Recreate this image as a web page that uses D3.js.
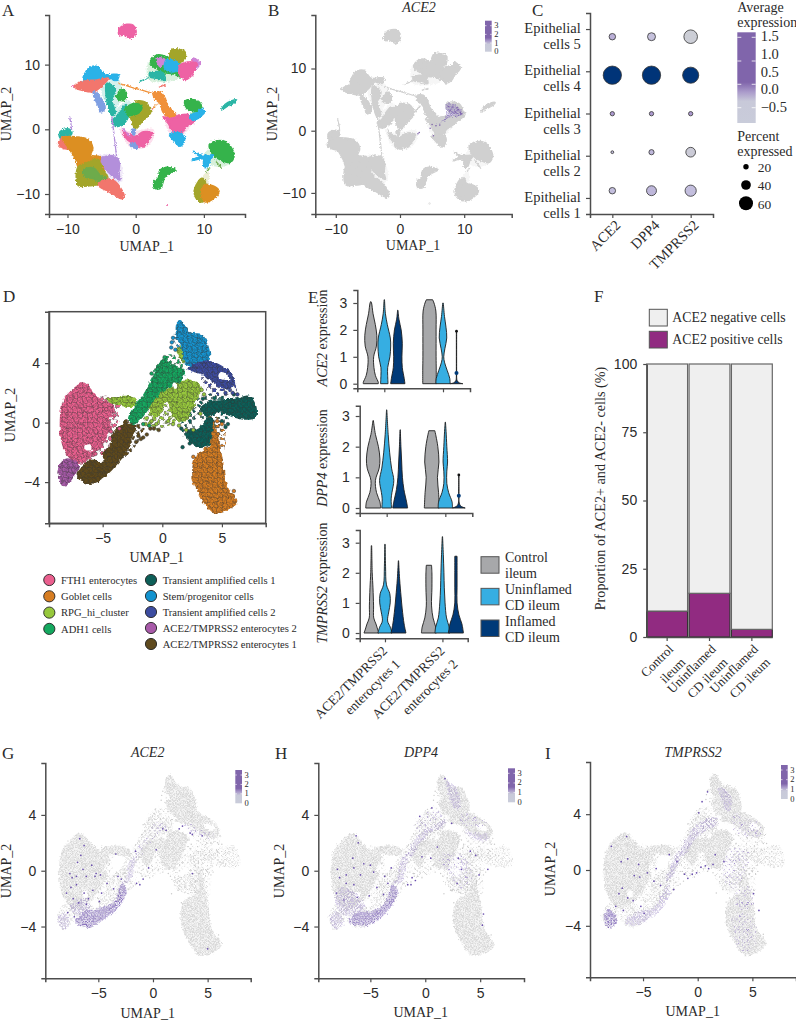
<!DOCTYPE html>
<html>
<head>
<meta charset="utf-8">
<script src="https://cdn.jsdelivr.net/npm/d3@7"></script>
<style>
  body { margin: 0; background: #fff; }
  svg { display: block; font-family: "Liberation Serif", serif; }
  text { fill: #2b2b2b; }
  .tick text { font-size: 14px; }
</style>
</head>
<body>
<script>
// ---- data ----
// panel A/B: outline of every cell cloud in UMAP units, [hue, points]
var atlasBlobs = [
  ["teal", [[-11.2,-.6],[-10.4,0],[-9.6,-.1],[-9.4,-.7],[-10.2,-1.2],[-11,-1.4]]],
  ["salmon", [[-11.3,-2.3],[-10.6,-1.2],[-9.4,-1.4],[-8.4,-2.7],[-8.4,-4.2],[-9.4,-3.2],[-10.6,-2.9]]],
  ["gold", [[-10.7,-1.3],[-8.6,-1.2],[-7,-1.6],[-6.3,-2.9],[-6.6,-4],[-5.2,-4.3],[-4.5,-6.3],[-6.3,-7.2],[-8.2,-6.3],[-8.8,-4.7],[-9.6,-3.2]]],
  ["olive", [[-8.7,-7.3],[-8.4,-5.8],[-7.2,-5.2],[-5.5,-4.7],[-4.8,-6.3],[-4.1,-7.5],[-5.2,-8.4],[-6.7,-8.7],[-8.4,-8.7]]],
  ["moss", [[-7.7,-6.3],[-6.2,-6],[-5.2,-7.1],[-4.1,-7.8],[-5,-8.3],[-6.2,-7.6],[-7.4,-7.3]]],
  ["purple", [[-5,-4.5],[-3,-4.2],[-2.4,-5.2],[-2.5,-6.8],[-2.3,-7.8],[-3.5,-7.1],[-4.5,-6]]],
  ["salmon", [[-5.5,-8.6],[-4,-7.7],[-2.8,-8.3],[-1.7,-10.4],[-2,-10.7],[-4,-9.6]]],
  ["cyan", [[-7.7,7.6],[-6.9,9.4],[-5.7,9.7],[-4.5,8.4],[-3.3,8.5],[-2.5,8.4],[-2.8,7.6],[-4,7.9],[-5.7,7.6],[-6.9,7.1]]],
  ["salmon", [[-9,6.6],[-7.7,7.4],[-5.7,7.6],[-4,7.9],[-5.2,6.5],[-6.2,5.8],[-7.7,6]]],
  ["periwinkle", [[-6.2,5.8],[-5.2,5],[-4.5,3.2],[-5.2,2.7],[-5.4,3.5],[-6,4.8]]],
  ["teal", [[-4.2,7.1],[-3,6.3],[-3.5,4.5],[-3,2.5],[-3.5,2.2],[-4.3,5]]],
  ["green", [[-2.8,5],[-2,6.2],[-1.4,5.6],[-1.6,4.5],[-2.5,4.6]]],
  ["teal", [[-3.5,1.2],[-2.8,2],[-1.4,3.8],[-1.1,3],[-1.1,2],[-2,.7],[-3,.5]]],
  ["olive", [[-.1,4.3],[1.4,4.2],[2.2,2.7],[.9,1.2],[0,.1],[-.7,1.7],[-.8,2.5],[.4,2.5],[.9,3.5]]],
  ["green", [[-1.5,3.2],[-.1,4],[.9,3.5],[.4,2.5],[-1.1,2.2]]],
  ["pink", [[-1.8,-.4],[-.1,-1.1],[1.1,-.4],[2.4,-.6],[1.9,-1.7],[1.1,-2.7],[-.1,-2.2],[-1.1,-1.7]]],
  ["periwinkle", [[-.8,-2.2],[-.1,-2.3],[.4,-2.9],[-.6,-2.7]]],
  ["periwinkle", [[-.6,-.1],[-.1,0],[-.25,-.9]]],
  ["green", [[2.2,10.6],[3.3,11.5],[5,11],[6.5,10.4],[6,9.4],[6.7,8.1],[5.5,8.6],[4,8.8],[3.1,9.4],[2.3,9.9]]],
  ["orchid", [[3.1,11],[4.3,10.7],[3.6,9.7]]],
  ["olive", [[5,11.2],[5.3,12.3],[6.2,12.4],[7.2,12],[7.1,10.7],[6.2,10.3],[5.3,10.4]]],
  ["cyan", [[4.5,10.7],[6.2,10.3],[6.5,9.4],[5.5,8.9],[4.3,9.4]]],
  ["orchid", [[8.4,11],[9.4,10.2],[8.8,9.4]]],
  ["pink", [[6.5,9.9],[8.2,10.4],[9,10.1],[8.7,9.4],[8,8.1],[7.2,7.7],[6.5,8.4]]],
  ["teal", [[2.1,8.7],[3.1,8.9],[4,8.7],[4.3,7.6],[3.1,7.9],[2.1,8.1]]],
  ["orange", [[2.6,5.6],[3.6,5.7],[4.3,4.8],[4.6,3.8],[5.8,2.2],[5.3,1.7],[4,2.7],[3.6,4],[2.8,4.8]]],
  ["pink", [[4,1.9],[5.3,1.7],[6.5,2.2],[8,2.2],[8.7,1.4],[7.2,.2],[6.7,-.6],[5.5,-.4],[4.8,.9]]],
  ["green", [[7.2,4.3],[8.2,4.6],[9.2,4.3],[9.7,3.2],[8.7,2.7],[7.7,3]]],
  ["cyan", [[9.7,3.2],[10.1,2.7],[9.4,1.9],[8.4,1.4],[8,2.2],[9,2.6]]],
  ["cyan", [[5,-.9],[6,-.5],[7,-.9],[7.1,-1.9],[6.5,-2.6],[5.5,-1.6]]],
  ["green", [[10.8,-2.4],[11.6,-1.9],[13.1,-1.9],[14.2,-3.2],[14.4,-4.2],[13.8,-5.1],[12.4,-4.7],[11.4,-4]]],
  ["cyan", [[8.2,-4.8],[9.2,-4.2],[8.5,-3.4],[9.4,-4],[10.6,-4],[11.4,-4],[10.9,-4.7],[10.5,-5.8],[10,-5.8],[9.9,-4.6]]],
  ["olive", [[8.9,-8.6],[9.7,-7.6],[10.2,-8.1],[9.9,-11.2],[8.9,-10.7],[8.6,-9.6]]],
  ["gold", [[9.7,-9.1],[10.2,-8.6],[11.6,-8.9],[12.2,-9.6],[11.4,-10.7],[10.2,-11.2],[9.7,-10.4]]],
  ["green", [[3.6,-6.3],[4.5,-5.9],[5.9,-6.3],[5,-6.8],[4.3,-7.3],[3.6,-9.1],[2.8,-9.1],[2.7,-8.1],[3.3,-7.6]]],
  ["teal", [[12.6,3],[13.1,3.8],[14.1,4.4],[14.8,4.5],[14.3,4],[13.3,3.5]]],
  ["pink", [[-2.5,14.8],[-2.2,15.8],[-1.3,16.2],[-.4,16.1],[.05,15.2],[-.1,14.6],[-.8,14.1],[-1.6,14.6],[-2.2,14.5]]]
];
// thinly populated zones drawn under the clouds
var atlasHaze = [
  ["teal", [[-5,6.5],[-2.7,7.8],[-2,6.3],[-3,3],[-4,3.5]]],
  ["teal", [[-3.5,2],[-1,4.5],[-.8,2],[-2.8,.7]]],
  ["pink", [[-2.3,.2],[-1,-.3],[2.6,0],[2.5,-1.7],[1,-3],[-1,-2.6]]],
  ["green", [[2,10.5],[6.5,10.5],[6.5,8],[2,7.6]]],
  ["pink", [[4.4,2],[8,2],[8,.4],[6.5,-1],[5,-.6]]],
  ["green", [[10,-4],[12,-2.4],[14,-5],[12.6,-5.8],[10.8,-5.4]]],
  ["purple", [[-8,-5],[-3,-4],[-2,-8],[-5,-9]]],
  ["olive", [[10,-7],[10.6,-6.4],[10.6,-8.4],[9.4,-8.2]]]
];
// thin trails of cells between the clouds
var atlasThreads = [
  ["orange", [[-2.5,7.1],[-.6,6.5],[1.4,5.9],[3.1,5.3]]],
  ["orange", [[2.4,3.2],[3.2,4]]],
  ["purple", [[-9.7,2],[-9.5,.9],[-9.4,-.1]]],
  ["purple", [[-3.5,2],[-3.2,-.6],[-2.8,-4.2]]],
  ["orchid", [[-2,.3],[-1.4,-.5],[-.8,-1.1]]],
  ["teal", [[-4.3,4.2],[-3.7,3.4],[-3.1,2.2]]],
  ["teal", [[.6,7.4],[2,8]]],
  ["salmon", [[3.4,6.5],[4.4,6.9]]],
  ["moss", [[11.6,-4.8],[12.3,-5.6],[12.6,-6.1]]],
  ["moss", [[10.4,-6.6],[10.9,-5.9]]]
];
var atlasSpecks = [["pink",-9.2,6.7],["pink",4.6,-11.7],["salmon",2.5,3.1],["salmon",4.3,6.7]];
// ACE2 signal in panel B
var aceAtlasHot = [[[7.1,4.2],[8.3,4.3],[9.7,3],[9.6,2.4],[8,2.2],[6.3,1.2],[5.8,1],[7,2],[7.2,3]]];
var aceAtlasDots = [[9.4,2.9],[9.1,3.4],[8.9,3.7],[9.6,2.7],[8.6,3],[8.2,3.8],[7.6,3.9],[7.8,3.2],[3,-.3],[2.8,-.5],[5.6,.8],[5,1],[6.2,.9],[4.7,.4],[5.2,-.8]];

// panel C dot plot
var epithelialRows = ["Epithelial cells 5","Epithelial cells 4","Epithelial cells 3","Epithelial cells 2","Epithelial cells 1"];
var dotGenes = ["ACE2","DPP4","TMPRSS2"];
var dotPercent = [[25,32,58],[80,80,70],[15,15,15],[8,19,40],[25,41,47]];
var dotExpression = [[-.1,-.25,-.5],[1.5,1.5,1.5],[.05,.05,.05],[-.2,-.15,-.45],[-.2,-.15,-.2]];
var avgTicks = [1.5,1,.5,0,-.5];
var percentTicks = [20,40,60];

// panel D clusters and outlines in UMAP units
var cellTypes = ["FTH1 enterocytes","Goblet cells","RPG_hi_cluster","ADH1 cells","Transient amplified cells 1","Stem/progenitor cells","Transient amplified cells 2","ACE2/TMPRSS2 enterocytes 2","ACE2/TMPRSS2 enterocytes 1"];
var cellColors = ["#ea5f8e","#d67d22","#97c83c","#14a85f","#0d5f58","#1393cf","#3c4ca0","#a85aa9","#5f4a1e"];
var cellHaze = [
  [2, [[-1.6,.6],[.5,2.2],[1.4,.4],[.4,-.3],[-1,-.4]]],
  [4, [[2.2,1.2],[4,2],[5.4,1.8],[5.5,.3],[5,-.6],[3.7,-1.6],[2,-1.2],[1.6,0]]],
  [0, [[-5.2,1.8],[-3.6,1.2],[-3.9,-.4],[-5,-2.2],[-6.6,-2.8]]],
  [8, [[-4.3,-1.4],[-3,.2],[-1.6,-.2],[-2,-1.3],[-3.4,-2.4]]],
  [3, [[-.8,3.4],[.6,4.6],[1.9,4],[1.2,2.6],[0,2]]],
  [5, [[1,6],[2,6.4],[3.6,5],[3,3.8],[1.8,4.2]]],
  [6, [[3.3,3.2],[5.8,3.2],[6.2,2],[4,2]]],
  [1, [[3.8,.4],[4.9,.2],[5.2,-1.8],[3.8,-1.8]]]
];
var cellOutlines = [
  [4, [[3.2,1],[4.3,1.5],[6,1.6],[7.3,1.8],[7.9,1],[7.8,.3],[6.8,.2],[5.8,.4],[4.8,.7],[3.7,.4]]],
  [4, [[2.9,-.4],[4,.4],[4.5,-.2],[4.3,-1.3],[3.2,-1.7],[2,-1.05],[2.2,-.5]]],
  [1, [[4.3,.1],[4.7,-1],[5.1,-2.6],[5.4,-4.2],[6.3,-5.3],[5.7,-5.8],[4.3,-6.1],[3.4,-5.3],[2.7,-4.2],[2.5,-3.3],[2.9,-2.1],[4,-1.5]]],
  [2, [[-4.7,1.6],[-3,1.8],[-2.1,1.5],[-2.3,1.1],[-3.3,1.1],[-4.2,1.3]]],
  [2, [[.5,2.3],[2,2.9],[3.2,2.5],[2.9,1.5],[2.3,.6],[2,.1],[.9,.3],[.4,1.4],[-.5,.3],[-1.2,1.2],[-.4,2.1]]],
  [2, [[1.2,4.9],[1.6,5.2],[1.9,4.8],[1.8,4]]],
  [3, [[-1.6,1.9],[-.8,3.1],[.1,4.3],[.9,3.9],[1.8,3.6],[1.7,2.9],[.4,2.3],[-.6,1.6],[-1.7,.3],[-2.6,-.2],[-2.8,.3],[-2.1,1.4]]],
  [5, [[1.2,6.7],[1.6,6.9],[2.3,6.1],[3.4,5.9],[4,4.3],[3.2,3.8],[2,3.9],[1.5,5.3],[1.2,5.7]]],
  [6, [[2,3.6],[3.7,4.2],[4.6,4],[5.7,3.4],[6.1,2.9],[5.7,2.3],[4.6,2.5],[3.4,3.2]]],
  [0, [[-8.6,.2],[-8.3,1.5],[-7.6,2.2],[-6.6,2.7],[-5.9,2.2],[-5.2,1.6],[-4.2,1.3],[-4,.8],[-4.5,.1],[-4.2,-.2],[-4.5,-.8],[-5.2,-1.7],[-6.1,-2.4],[-7,-2.8],[-7.9,-2.3],[-8.4,-1.5]]],
  [7, [[-8.8,-3.3],[-8.4,-2.6],[-7.9,-2.4],[-7,-2.8],[-7.3,-3.5],[-8.2,-4.3],[-8.6,-3.9]]],
  [8, [[-7.2,-3.5],[-6.3,-2.6],[-5.5,-2.4],[-4.4,-1.5],[-4.1,-.6],[-3.1,0],[-2.3,-.2],[-2.6,-1.2],[-3,-2],[-4.1,-3.1],[-5.4,-4],[-6.3,-4.1]]]
];
var cellGaps = [[[4.9,3.4],[5.5,3.2],[5.6,2.9],[5,2.9],[4.7,3.1]], [[-5.6,-2.3],[-5,-2.2],[-5,-2.6],[-5.6,-2.6]], [[-3.6,.9],[-3,.9],[-3.1,.4],[-3.7,.5]], [[.9,2.6],[1.2,2.6],[1.2,2.3],[.9,2.3]], [[-6.4,-1.5],[-6,-1.5],[-6,-1.9],[-6.4,-1.9]], [[2.6,.1],[3.2,.2],[3.1,-.2],[2.6,-.3]]];
var cellStrays = [
  [5,.8,5.4],[5,.9,5.7],[5,.75,5.05],[5,1.1,4.9],[3,.2,4.4],[3,.1,4.1],[3,-.9,3.3],[3,-.4,3.6],
  [4,1.7,-1.65],[4,3.4,1.6],[4,5.3,-.3],[4,5.5,-.1],[4,5,.1],[4,1.6,-.4],[4,2.3,-1.4],[4,6,1.9],[4,5.9,1.4],
  [8,-2,-.9],[8,-1.6,-1],[8,-1.3,-.8],[8,-1,-.4],[8,-.7,-.4],[8,-.3,-.5],[8,-2.2,-1.3],[8,-1.8,-1.1],
  [2,-1.4,-.1],[2,-.9,.1],[2,-.5,-.1],[2,.5,.1],[2,.9,-.1],[2,1.4,-.2],[2,2,-.5],[2,2.6,-.5],[2,3.3,2.2],[2,3.5,1.9],[2,3.2,.6],
  [3,-1.1,-.2],[3,-1.6,-.1],[6,3.5,3.9],[6,5.9,2],[6,5.3,2],[6,6.3,1.9],
  [0,-4.3,-.6],[0,-4,.5],[0,-3.6,-.4],[0,-5.6,-2.1],[0,-4.7,.9],[1,5,-.1],[1,4.6,.1],[1,6,-4.6],[1,2.6,-2.3]
];

// genes on the small cluster, hot zones and single dots, strength 0 strong, 1 middle, 2 weak
var geneHotAce2 = [
  [0, [[-7.1,-3.7],[-6.2,-2.9],[-4.9,-2.7],[-3.5,-2.1],[-2.9,-.9],[-2.4,-1.4],[-3.3,-2.8],[-4.9,-3.7],[-5.9,-4.1]]],
  [1, [[-8.7,-3.3],[-8,-3],[-7.7,-4],[-8.3,-4.2]]],
  [1, [[-2.9,-.9],[-2.1,-.7],[-1.8,0],[-1.6,1],[-2.2,.5],[-2.5,-.6]]],
  [1, [[-7.6,-2.4],[-6,-2],[-5.8,-2.9],[-7,-3.2]]],
  [2, [[-1.8,1],[-.9,2.3],[.7,3.5],[1.2,3.2],[-.4,1.9],[-1.4,.9]]],
  [2, [[3,3.4],[4.5,2.9],[5.6,2.7],[5.3,2.3],[4,2.6],[3.1,2.9]]]
];
var geneDotsAce2 = [[-6.7,2.3],[-6.3,1.8],[-6.6,1.1],[-7.6,-.2],[-7.4,-.5],[-5.6,.4],[-5.2,-.2],[-4.8,-.3],[-6.1,-.4],[-6.4,.1],[-7,-1],[-7.9,-1.6],[-7.3,-2],[-6.8,-2.3],[-6.3,-1.6],[-5.5,-1.4],[-4.7,-1.6],[-3.4,1.2],[-3.2,-.4],[-2.9,-.6],[-1.6,1.4],[-1.2,-1],[-1.5,-.9],[-.9,-.6],[-.4,.2],[.3,1.5],[.9,3],[1.2,2.9],[2.4,3],[2.7,3.2],[3.4,2.7],[3.6,2.6],[4.5,2.5],[3.6,-.2],[5,-5.6],[-5.9,-2],[-4.2,-.9],[-3.6,-1.3],[-7.8,-3],[-7.2,-3.3],[-6.9,.6],[-5.3,-.4],[-7,-.4],[-7.5,-1.2],[-6.1,-2.4],[-4.9,-2.2]];
var geneHotDpp4 = [
  [0, [[-7,-3.7],[-6.2,-3],[-4.9,-2.9],[-3.7,-2.3],[-3,-1],[-2.5,-1.4],[-3.4,-2.9],[-4.9,-3.8],[-5.9,-4]]],
  [1, [[-8.7,-3.3],[-8,-2.9],[-7.4,-3.8],[-8.2,-4.2]]],
  [1, [[-7.8,-1.2],[-6.4,-1.6],[-5.5,-2.7],[-7.4,-3.2],[-8.2,-2.2]]],
  [1, [[-3,-.9],[-2.2,-.8],[-1.8,.2],[-1.5,1.3],[-2.2,.8],[-2.6,-.5]]],
  [1, [[-1.6,1.1],[-.7,2.5],[.9,3.3],[1.9,3.7],[1.7,3.2],[.4,2.7],[-.4,2],[-1.2,1]]],
  [1, [[1.9,6.4],[2.8,6],[3.2,5.2],[3,4.3],[2.4,4.8],[2,5.8]]],
  [1, [[3.5,3],[4.5,2.7],[5.8,2.6],[5.6,2.2],[4.3,2.3]]],
  [2, [[3.1,4.1],[4.4,3.9],[5.6,3.4],[5,3.1],[3.6,3.3]]],
  [2, [[1.2,1],[2.9,1.3],[3.9,.6],[4.2,-.8],[3,-1.3],[2.2,-.2]]],
  [2, [[-1,3.4],[.6,4.3],[1.6,4],[.9,3.4],[-.3,2.8]]]
];
var geneDotsDpp4 = [[-6.3,2.5],[-6.1,2],[-6.6,.9],[-8,.1],[-7.8,-.5],[-7.2,-.3],[-5.6,.5],[-5,.4],[-5.9,-.3],[-4.7,-.1],[-6.5,.2],[-7.2,-.9],[-6.5,-1],[-5.1,-1.8],[-4.4,-1.2],[-3.4,-.9],[-3.7,-.4],[-3.1,.2],[-1.6,-1],[-1.3,-1],[-.9,-.7],[-1.2,-.5],[-.3,1],[.5,.9],[1.1,1.7],[3,.9],[4.1,1.4],[4.6,1.1],[5.7,.1],[4.9,-.3],[2.9,-.9],[3.3,.1],[1.8,6.6],[.6,4.5],[-.5,3.9],[2.4,3.4],[5.2,-3.9],[5.3,-3.1],[-8.1,-1.6],[-7.4,-2.1],[-6.2,-1.9],[-3.8,-1.7]];
var geneHotTmprss2 = [
  [0, [[-8.6,-3.3],[-8.2,-2.8],[-7.6,-3.1],[-7.4,-3.8],[-8.1,-4.2]]],
  [1, [[-6.7,-3.8],[-5.6,-3],[-4.2,-2.7],[-3.3,-1.8],[-2.8,-.9],[-2.5,-1.5],[-3.3,-2.8],[-4.6,-3.6],[-5.6,-4]]],
  [1, [[-3,-.8],[-2.3,-.5],[-1.8,.4],[-1.5,1.4],[-2.1,1],[-2.7,-.2]]],
  [1, [[-1.6,1.2],[-.8,2.5],[.2,3.4],[1.8,3.8],[1.7,3.2],[.4,2.7],[-.4,2],[-1.2,1.1]]],
  [1, [[1.9,5.9],[2.9,5.5],[3.1,4.5],[2.6,4.2],[2.2,5]]],
  [2, [[3.2,4.1],[4.4,3.7],[5.7,3.2],[5.7,2.4],[4.3,2.4],[3.3,3]]],
  [2, [[3,1.6],[4.6,1.3],[4.3,-.3],[3.4,-1.4],[2.4,-.6],[2.3,.5]]],
  [2, [[3.2,-3.3],[4.8,-3.2],[5.4,-4.6],[5.2,-5.6],[4,-5.8],[3.3,-4.6]]],
  [2, [[3.4,-1.8],[4.6,-1.2],[5,-2.6],[3.9,-2.8]]]
];
var geneDotsTmprss2 = [[-6.5,2.4],[-7.9,1.7],[-7,.6],[-6.4,.8],[-5.4,.4],[-5.8,-.4],[-5.3,-.5],[-4.6,-.2],[-6.9,-1.3],[-7.2,-1.7],[-6.4,-2],[-5.9,-2.2],[-7.5,-2.6],[-6.8,-2.9],[-3.8,.1],[-2.6,1.1],[-1.2,-.3],[-.9,-.6],[-.5,-.3],[-.1,-.2],[.3,.2],[.9,5.6],[.4,4.9],[.1,4.1],[.7,.3],[1,.1],[1.4,.4],[1.6,1.1],[2.4,.6],[5.6,-2.9],[5.1,-1.7],[-4,-.8],[-3.4,-1.1],[-2.2,-1.4],[-1.9,.6],[-4.9,-3.1],[-5.2,-2.6]];

// panel E violins, each [expression, share of the widest violin] from 0 upward
var enterocyteGroups = ["ACE2/TMPRSS2 enterocytes 1","ACE2/TMPRSS2 enterocytes 2"];
var conditions = ["Control ileum","Uninflamed CD ileum","Inflamed CD ileum"];
var violinAce2 = [
  [[0,1],[.05,1],[.3,.62],[.6,.42],[1,.38],[1.4,.75],[1.8,.8],[2.2,.6],[2.6,.3],[3,.1],[3.05,.02]],
  [[0,.5],[.3,.45],[.6,.45],[1,.75],[1.4,.85],[1.7,.8],[2.2,.4],[2.6,.15],[3.12,.03]],
  [[0,.95],[.2,.85],[.6,.6],[1,.55],[1.5,.6],[2,.45],[2.4,.15],[2.73,.03]],
  [[0,.9],[.5,.9],[1,.88],[2,.88],[2.7,.85],[3,.6],[3.12,.42]],
  [[0,.95],[.2,.9],[.5,.55],[.8,.2],[1,.1],[1.3,.25],[1.7,.5],[2.1,.4],[2.5,.2],[3,.04]],
  [[0,.85],[.03,.4],[.1,.1],[.2,.03],[.4,.02],[1.95,.02]]
];
var violinDpp4 = [
  [[0,1],[.2,.9],[.5,.45],[.9,.3],[1.3,.8],[1.6,.9],[2,.7],[2.4,.3],[2.85,.03]],
  [[0,.65],[.3,.6],[.5,.7],[.9,.95],[1.3,.65],[1.8,.4],[2.4,.2],[3.2,.02]],
  [[0,1],[.2,.85],[.6,.5],[1,.3],[1.5,.2],[2,.1],[2.55,.02]],
  [[0,1],[.5,.9],[1,.75],[1.5,.95],[2,.8],[2.35,.55],[2.52,.4]],
  [[0,.95],[.2,.9],[.5,.45],[.8,.2],[1.2,.2],[1.5,.3],[2,.2],[2.5,.1],[2.8,.02]],
  [[0,.85],[.03,.5],[.08,.2],[.2,.03],[1.08,.02]]
];
var violinTmprss2 = [
  [[0,1],[.1,.85],[.3,.6],[.5,.3],[.9,.28],[1.5,.2],[2,.1],[2.9,.03]],
  [[0,.95],[.2,.7],[.4,.35],[.7,.5],[1,.7],[1.3,.65],[1.6,.2],[2.2,.08],[2.95,.02]],
  [[0,1],[.3,.75],[.8,.5],[1.2,.35],[1.8,.15],[2.4,.02]],
  [[0,1],[.2,.9],[.5,.55],[.9,.35],[1.5,.4],[2,.4],[2.25,.35]],
  [[0,1],[.2,.9],[.5,.55],[1,.35],[1.5,.25],[2,.2],[2.6,.12],[3.2,.02]],
  [[0,1],[.3,.8],[.6,.4],[1,.15],[1.5,.15],[2,.15],[2.55,.15]]
];
var outliersAce2 = [.4,1.95];
var outliersDpp4 = [.4,1.08];

// panel F
var proportionGroups = [["Control","ileum"],["Uninflamed","CD ileum"],["Uninflamed","CD ileum "]];
var ace2Positive = [9.5,16,2.8];
var ace2Negative = [90.5,84,97.2];
var proportionTicks = [0,25,50,75,100];

// ---- drawing ----
var hues = {teal:"#2ab5a5",salmon:"#f2766d",gold:"#dc8f22",olive:"#a3a52b",moss:"#6dab4c",purple:"#b38fdb",cyan:"#2cb2e8",periwinkle:"#7f9fe2",green:"#36b34c",pink:"#ee62a4",orchid:"#cf84d6",orange:"#f0913a"};
var violinColors = d3.scaleOrdinal().domain(conditions).range(["#a7a8aa","#36aee2","#003a78"]);
var textColor = "#2b2b2b", axisColor = "#4d4d4d";

var svg = d3.select("body").append("svg").attr("width",796).attr("height",1022);
var defs = svg.append("defs");

function roughFilter(id, freq, scale, blur) {
  var f = defs.append("filter").attr("id",id).attr("x","-5%").attr("y","-5%").attr("width","110%").attr("height","110%");
  f.append("feTurbulence").attr("type","fractalNoise").attr("baseFrequency",freq).attr("numOctaves",2).attr("seed",4).attr("result","n");
  f.append("feDisplacementMap").attr("in","SourceGraphic").attr("in2","n").attr("scale",scale).attr("xChannelSelector","R").attr("yChannelSelector","G").attr("result","d");
  if (blur) f.append("feGaussianBlur").attr("in","d").attr("stdDeviation",blur);
}
roughFilter("roughA",.55,3.5,.55);
roughFilter("roughD",.22,5,.25);
roughFilter("roughG",.45,5,.2);

function dotPattern(id, size, r, fill, stroke, bg) {
  var p = defs.append("pattern").attr("id",id).attr("width",size).attr("height",size).attr("patternUnits","userSpaceOnUse");
  if (bg) p.append("rect").attr("width",size).attr("height",size).attr("fill",bg);
  [[size/4,size/4],[size*3/4,size*3/4]].forEach(function(c) {
    p.append("circle").attr("cx",c[0]).attr("cy",c[1]).attr("r",r).attr("fill",fill)
      .attr("stroke",stroke || "none").attr("stroke-width",stroke ? .45 : 0);
  });
}
cellColors.forEach(function(c,i) {
  dotPattern("cell"+i,5,1.75,c,"#333",d3.color(c).darker(.2));
  dotPattern("haze"+i,8,1.75,c,"#333");
});
dotPattern("grayCells",3.3,.8,"#cfcfcf",null,"#f5f5f5");
dotPattern("grayMid",4.2,.75,"#cdcdcd");
dotPattern("graySparse",5.4,.75,"#c9c9c9");
dotPattern("hot0",2.9,.78,"#7358b2");
dotPattern("hot1",3.9,.72,"#8d76bf");
dotPattern("hot2",5.2,.65,"#a897cf");
var grad = defs.append("linearGradient").attr("id","expr").attr("x1",0).attr("y1",0).attr("x2",0).attr("y2",1);
[[0,"#8065ab"],[.55,"#8065ab"],[.66,"#ab9ccb"],[.76,"#c8c9d9"],[1,"#c9ccda"]].forEach(function(s) {
  grad.append("stop").attr("offset",s[0]).attr("stop-color",s[1]);
});

function label(t, x, y) {
  svg.append("text").attr("x",x).attr("y",y).attr("font-size",17).text(t);
}
function rotated(g, t, x, y, size) {
  return g.append("text").attr("transform","translate("+x+","+y+") rotate(-90)")
    .attr("text-anchor","middle").attr("font-size",size || 14).text(t);
}
function styleAxis(sel) {
  sel.select(".domain").attr("stroke",axisColor).attr("stroke-width",1.5);
  sel.selectAll(".tick line").attr("stroke",axisColor).attr("stroke-width",1.2);
  sel.selectAll(".tick text").attr("fill",textColor);
}
function umapScales(p) {
  return {x:d3.scaleLinear().domain(p.xd).range(p.xr), y:d3.scaleLinear().domain(p.yd).range(p.yr)};
}
function umapAxes(p, s) {
  var fmt = d3.format("d");
  svg.append("g").attr("transform","translate(0,"+p.yr[0]+")")
    .call(d3.axisBottom(s.x).tickValues(p.xt).tickFormat(fmt).tickSize(4).tickPadding(p.xpad)).call(styleAxis);
  svg.append("g").attr("transform","translate("+p.xr[0]+",0)")
    .call(d3.axisLeft(s.y).tickValues(p.yt).tickFormat(fmt).tickSize(4).tickPadding(p.ypad)).call(styleAxis);
  svg.append("text").attr("x",p.t1[0]).attr("y",p.t1[1]).attr("text-anchor","middle").attr("font-size",14).text("UMAP_1");
  rotated(svg,"UMAP_2",p.t2[0],p.t2[1]);
  if (p.title) svg.append("text").attr("x",p.title[1]).attr("y",p.title[2]).attr("text-anchor","middle")
    .attr("font-size",14).attr("font-style","italic").text(p.title[0]);
}
function blobPath(s) {
  return d3.line().x(function(d){return s.x(d[0]);}).y(function(d){return s.y(d[1]);}).curve(d3.curveCatmullRomClosed.alpha(.5));
}
function threadPath(s) {
  return d3.line().x(function(d){return s.x(d[0]);}).y(function(d){return s.y(d[1]);}).curve(d3.curveCatmullRom);
}
function miniBar(x, y0, y1, w) {
  var sc = d3.scaleLinear().domain([0,3]).range([y1,y0+5]);
  svg.append("rect").attr("x",x).attr("y",y0).attr("width",w).attr("height",y1-y0).attr("fill","url(#expr)");
  [1,2,3].forEach(function(v) {
    svg.append("line").attr("x1",x).attr("x2",x+1.5).attr("y1",sc(v)).attr("y2",sc(v)).attr("stroke","#fff").attr("stroke-width",.7);
    svg.append("line").attr("x1",x+w-1.5).attr("x2",x+w).attr("y1",sc(v)).attr("y2",sc(v)).attr("stroke","#fff").attr("stroke-width",.7);
  });
  [0,1,2,3].forEach(function(v) {
    svg.append("text").attr("x",x+w+2.5).attr("y",sc(v)+2.5).attr("font-size",8.5).text(v);
  });
}

// A and B
var panelA = {xd:[-12.71,16.03],xr:[49,245],yd:[-13.09,17.67],yr:[214,15],xt:[-10,0,10],yt:[-10,0,10],xpad:6,ypad:5,t1:[146.7,250.5],t2:[11,114]};
var panelB = {xd:[-13.19,17.4],xr:[315.3,511.7],yd:[-13.39,18.6],yr:[214,15],xt:[-10,0,10],yt:[-10,0,10],xpad:6,ypad:5,t1:[413,250],t2:[277,114],title:["ACE2",419,12]};
function atlas(p, colorOf) {
  var s = umapScales(p);
  var g = svg.append("g").attr("filter","url(#roughA)");
  g.selectAll("path.haze").data(atlasHaze).join("path").attr("class","haze")
    .attr("d",function(d){return blobPath(s)(d[1]);}).attr("fill",function(d){return colorOf(d[0]);}).attr("opacity",.2);
  g.selectAll("path.blob").data(atlasBlobs).join("path").attr("class","blob")
    .attr("d",function(d){return blobPath(s)(d[1]);}).attr("fill",function(d){return colorOf(d[0]);})
    .attr("stroke",function(d){return colorOf(d[0]);}).attr("stroke-width",1.8).attr("stroke-linejoin","round");
  g.selectAll("path.thread").data(atlasThreads).join("path").attr("class","thread")
    .attr("d",function(d){return threadPath(s)(d[1]);}).attr("fill","none").attr("stroke-width",1.3)
    .attr("stroke",function(d){return colorOf(d[0]);});
  g.selectAll("circle").data(atlasSpecks).join("circle").attr("r",1)
    .attr("cx",function(d){return s.x(d[1]);}).attr("cy",function(d){return s.y(d[2]);})
    .attr("fill",function(d){return colorOf(d[0]);});
  return s;
}
atlas(panelA,function(h){return hues[h];});
umapAxes(panelA,umapScales(panelA));
var sB = atlas(panelB,function(){return "#d0d0d0";});
svg.append("g").attr("filter","url(#roughG)").selectAll("path").data(aceAtlasHot).join("path")
  .attr("d",blobPath(sB)).attr("fill","url(#hot0)");
svg.append("g").selectAll("circle").data(aceAtlasDots).join("circle").attr("r",.8)
  .attr("cx",function(d){return sB.x(d[0]);}).attr("cy",function(d){return sB.y(d[1]);}).attr("fill","#8065ab");
umapAxes(panelB,sB);
miniBar(485,20.7,51.7,6.7);

// C
var tickRow = d3.scalePoint().domain(epithelialRows).range([13,214]).padding(.38);
var dotRow = d3.scalePoint().domain(epithelialRows).range([36.7,190.7]);
var dotX = d3.scalePoint().domain(dotGenes).range([590,713]).padding(.57);
var dotR = d3.scaleLinear().domain([20,60]).range([2.7,7]);
var dotFill = d3.scaleLinear().domain([-.5,-.2,.05,.6,1.5]).range(["#ccced6","#c3bedd","#ac99cf","#5a5a9c","#003478"]);
svg.append("g").attr("transform","translate(590,0)")
  .call(d3.axisLeft(tickRow).tickSize(4).tickFormat("")).call(styleAxis);
svg.append("g").attr("transform","translate(0,214)")
  .call(d3.axisBottom(dotX).tickSize(4).tickFormat("")).call(styleAxis);
epithelialRows.forEach(function(row,i) {
  var parts = row.split(" ");
  var t = svg.append("text").attr("text-anchor","end").attr("font-size",14.5);
  t.append("tspan").attr("x",580.7).attr("y",tickRow(row)+4).text(parts[0]);
  t.append("tspan").attr("x",580.7).attr("dy",16).text(parts[1]+" "+parts[2]);
  dotGenes.forEach(function(gene,j) {
    svg.append("circle").attr("cx",dotX(gene)).attr("cy",dotRow(row)).attr("r",dotR(dotPercent[i][j]))
      .attr("fill",dotFill(dotExpression[i][j])).attr("stroke","#333").attr("stroke-width",.8);
  });
});
dotGenes.forEach(function(gene) {
  svg.append("text").attr("text-anchor","end").attr("font-size",14.5)
    .attr("transform","translate("+(dotX(gene)+9)+",226) rotate(-45)").text(gene);
});
var avgY = d3.scaleLinear().domain([1.5,-.5]).range([36.7,107.3]);
[["Average",11.7],["expression",26.7],["Percent",141],["expressed",156]].forEach(function(d) {
  svg.append("text").attr("x",737.3).attr("y",d[1]).attr("font-size",14).text(d[0]);
});
svg.append("rect").attr("x",737.3).attr("y",32.3).attr("width",18.4).attr("height",90.7).attr("fill","url(#expr)");
avgTicks.forEach(function(v) {
  svg.append("text").attr("x",760.7).attr("y",avgY(v)+4.5).attr("font-size",14.5).text(d3.format(".1f")(v));
});
[37.3,61,84.3,107.7].forEach(function(yy) {
  [737.3,751.7].forEach(function(xx) {
    svg.append("line").attr("x1",xx).attr("x2",xx+4).attr("y1",yy).attr("y2",yy).attr("stroke","#fff").attr("stroke-width",.8);
  });
});
var percentY = d3.scalePoint().domain(percentTicks).range([166.7,203.3]);
percentTicks.forEach(function(v) {
  svg.append("circle").attr("cx",746).attr("cy",percentY(v)).attr("r",dotR(v)).attr("fill","#000");
  svg.append("text").attr("x",757.7).attr("y",percentY(v)+5.3).attr("font-size",13.5).text(v);
});

// D
var panelD = {xd:[-9.5,8.67],xr:[49,265.7],yd:[-6.77,7.46],yr:[523.3,311.7],xt:[-5,0,5],yt:[-4,0,4],xpad:6,ypad:5,t1:[156.7,561.5],t2:[15,415]};
var sD = umapScales(panelD);
var dClouds = svg.append("g").attr("filter","url(#roughD)");
dClouds.selectAll("path.hz").data(cellHaze).join("path").attr("class","hz")
  .attr("d",function(d){return blobPath(sD)(d[1]);}).attr("fill",function(d){return "url(#haze"+d[0]+")";});
dClouds.selectAll("path.c").data(cellOutlines).join("path").attr("class","c")
  .attr("d",function(d){return blobPath(sD)(d[1]);}).attr("fill",function(d){return "url(#cell"+d[0]+")";});
dClouds.selectAll("path.gap").data(cellGaps).join("path").attr("class","gap").attr("d",blobPath(sD)).attr("fill","#fff");
svg.append("g").selectAll("circle").data(cellStrays).join("circle").attr("r",1.8)
  .attr("cx",function(d){return sD.x(d[1]);}).attr("cy",function(d){return sD.y(d[2]);})
  .attr("fill",function(d){return cellColors[d[0]];}).attr("stroke","#333").attr("stroke-width",.5);
svg.append("rect").attr("x",49).attr("y",311.7).attr("width",216.7).attr("height",211.6).attr("fill","none").attr("stroke",axisColor).attr("stroke-width",1.5);
umapAxes(panelD,sD);
// legend of D, two columns
var legendCols = [[0,1,2,3],[4,5,6,7,8]];
legendCols.forEach(function(col,c) {
  var rowY = d3.scaleLinear().domain([0,1]).range(c ? [580,596] : [580,596.3]);
  col.forEach(function(k,i) {
    svg.append("circle").attr("cx",c ? 151 : 49.3).attr("cy",rowY(i)).attr("r",5.6)
      .attr("fill",cellColors[k]).attr("stroke","#222").attr("stroke-width",.9);
    svg.append("text").attr("x",c ? 162.7 : 61).attr("y",rowY(i)+3.6).attr("font-size",10.6).text(cellTypes[k]);
  });
});

// E
var violinWidth = 7.5;
function violins(cfg) {
  var x = d3.scalePoint().domain(enterocyteGroups).range(cfg.xr).padding(cfg.pad);
  var dodge = d3.scalePoint().domain(conditions).range([-13.5,13.5]);
  var y = d3.scaleLinear().domain([0,3]).range(cfg.y03);
  var top = y.invert(cfg.top), bottom = y.invert(cfg.bottom);
  var yAxis = d3.scaleLinear().domain([bottom,top]).range([cfg.bottom,cfg.top]);
  var all = [];
  enterocyteGroups.forEach(function(grp) { conditions.forEach(function(c) { all.push({grp:grp,cond:c}); }); });
  var cx = function(d) { return x(d.grp)+dodge(d.cond); };
  all.forEach(function(d,i) {
    var area = d3.area().curve(d3.curveCatmullRom.alpha(.5))
      .y(function(p){return y(p[0]);})
      .x0(function(p){return cx(d)-p[1]*violinWidth;})
      .x1(function(p){return cx(d)+p[1]*violinWidth;});
    svg.append("path").attr("d",area(cfg.data[i])+"Z").attr("fill",violinColors(d.cond)).attr("stroke","#1d1d1d").attr("stroke-width",.9);
  });
  cfg.outliers.forEach(function(v,i) {
    svg.append("circle").attr("cx",cx(all[5])).attr("cy",y(v)).attr("r",i ? 1.4 : 2)
      .attr("fill",i ? "#111" : "#003a78");
  });
  svg.append("g").attr("transform","translate(0,"+cfg.bottom+")")
    .call(d3.axisBottom(x).tickSize(4).tickFormat("")).call(styleAxis);
  svg.append("g").attr("transform","translate("+cfg.xr[0]+",0)")
    .call(d3.axisLeft(yAxis).tickValues([0,1,2,3]).tickFormat(d3.format("d")).tickSize(4).tickPadding(6)).call(styleAxis);
  var t = rotated(svg,"",326.7,cfg.mid);
  t.append("tspan").attr("font-style","italic").text(cfg.gene);
  t.append("tspan").text(" expression");
  return x;
}
violins({xr:[357.3,470],pad:.46,y03:[383.7,303],top:290,bottom:388.3,data:violinAce2,outliers:outliersAce2,gene:"ACE2",mid:338});
violins({xr:[359.7,472.3],pad:.46,y03:[508,416],top:405.7,bottom:513,data:violinDpp4,outliers:outliersDpp4,gene:"DPP4",mid:458});
var xE3 = violins({xr:[359.7,467.7],pad:.44,y03:[633,542.7],top:530,bottom:638.3,data:violinTmprss2,outliers:[],gene:"TMPRSS2",mid:583});
enterocyteGroups.forEach(function(grp) {
  var w = grp.split(" ");
  svg.append("text").attr("text-anchor","end").attr("font-size",13.5).attr("transform","translate("+(xE3(grp)+3)+",651.7) rotate(-45)").text(w[0]);
  svg.append("text").attr("text-anchor","end").attr("font-size",13.5).attr("transform","translate("+(xE3(grp)+16)+",665) rotate(-45)").text(w[1]+" "+w[2]);
});
var swatchY = d3.scalePoint().domain(conditions).range([556.7,620]);
conditions.forEach(function(c) {
  svg.append("rect").attr("x",481).attr("y",swatchY(c)).attr("width",18).attr("height",16.5)
    .attr("fill",violinColors(c)).attr("stroke","#555").attr("stroke-width",1);
  var split = c.indexOf(" ");
  svg.append("text").attr("x",505).attr("y",swatchY(c)+5.5).attr("font-size",14).text(c.slice(0,split));
  svg.append("text").attr("x",505).attr("y",swatchY(c)+21.5).attr("font-size",14).text(c.slice(split+1));
});

// F
var fX = d3.scaleBand().domain(proportionGroups.map(function(d){return d.join(" ");})).range([646.7,772.3]).paddingInner(.035);
var fY = d3.scaleLinear().domain([0,100]).range([637,364]);
var fRows = proportionGroups.map(function(d,i) { return {name:d.join(" "),positive:ace2Positive[i],negative:ace2Negative[i]}; });
var fStack = d3.stack().keys(["positive","negative"])(fRows);
var fFill = {positive:"#912b81",negative:"#efefef"}, fStroke = {positive:"#333",negative:"#666"};
svg.append("g").selectAll("g").data(fStack).join("g")
  .attr("fill",function(d){return fFill[d.key];}).attr("stroke",function(d){return fStroke[d.key];}).attr("stroke-width",1.2)
  .selectAll("rect").data(function(d){return d;}).join("rect")
  .attr("x",function(d){return fX(d.data.name);}).attr("width",fX.bandwidth())
  .attr("y",function(d){return fY(d[1]);}).attr("height",function(d){return fY(d[0])-fY(d[1]);});
svg.append("g").attr("transform","translate(646.7,0)")
  .call(d3.axisLeft(fY).tickValues(proportionTicks).tickSize(3.5).tickPadding(6).tickSizeOuter(0)).call(styleAxis);
svg.append("g").attr("transform","translate(0,637)")
  .call(d3.axisBottom(fX).tickSize(4).tickFormat("").tickSizeOuter(0)).call(styleAxis);
rotated(svg,"Proportion of ACE2+ and ACE2- cells (%)",605,488.5,14.2);
proportionGroups.forEach(function(d) {
  var cx = fX(d.join(" "))+fX.bandwidth()/2;
  svg.append("text").attr("text-anchor","end").attr("font-size",13).attr("transform","translate("+(cx+7)+",650) rotate(-45)").text(d[0]);
  svg.append("text").attr("text-anchor","end").attr("font-size",13).attr("transform","translate("+(cx+19)+",663) rotate(-45)").text(d[1]);
});
[["ACE2 negative cells","#efefef",309.3],["ACE2 positive cells","#912b81",331.3]].forEach(function(d) {
  svg.append("rect").attr("x",649.3).attr("y",d[2]).attr("width",18).attr("height",16.7).attr("fill",d[1]).attr("stroke","#555");
  svg.append("text").attr("x",672.3).attr("y",d[2]+12.5).attr("font-size",13.8).text(d[0]);
});

// G H I
var panelG = {xd:[-9.85,8.94],xr:[45.3,250.7],yd:[-7.71,7.72],yr:[978.3,763],xt:[-5,0,5],yt:[-4,0,4],xpad:6,ypad:5,t1:[147.7,1018],t2:[11,871],title:["ACE2",147.7,756.7]};
var panelH = {xd:[-9.74,8.99],xr:[318.3,524],yd:[-7.71,7.72],yr:[978.3,763],xt:[-5,0,5],yt:[-4,0,4],xpad:6,ypad:5,t1:[420.7,1017],t2:[284,871],title:["DPP4",421,756.7]};
var panelI = {xd:[-9.85,8.99],xr:[590,796],yd:[-7.69,7.74],yr:[977.3,762],xt:[-5,0,5],yt:[-4,0,4],xpad:6,ypad:5,t1:[692.7,1015.5],t2:[555,869],title:["TMPRSS2",693,756.7]};
function grayFor(k) { return (k === 3 || k === 4 || k === 8 || k === 7) ? "url(#grayMid)" : "url(#grayCells)"; }
function featurePanel(p, hot, dots) {
  var s = umapScales(p);
  var g = svg.append("g").attr("filter","url(#roughG)");
  g.selectAll("path.hz").data(cellHaze).join("path").attr("class","hz")
    .attr("d",function(d){return blobPath(s)(d[1]);}).attr("fill","url(#graySparse)");
  g.selectAll("path.c").data(cellOutlines).join("path").attr("class","c")
    .attr("d",function(d){return blobPath(s)(d[1]);}).attr("fill",function(d){return grayFor(d[0]);});
  g.selectAll("path.gap").data(cellGaps).join("path").attr("class","gap").attr("d",blobPath(s)).attr("fill","#fff");
  g.selectAll("path.h").data(hot).join("path").attr("class","h")
    .attr("d",function(d){return blobPath(s)(d[1]);}).attr("fill",function(d){return "url(#hot"+d[0]+")";});
  svg.append("g").selectAll("circle.s").data(cellStrays).join("circle").attr("class","s").attr("r",.7)
    .attr("cx",function(d){return s.x(d[1]);}).attr("cy",function(d){return s.y(d[2]);}).attr("fill","#c9c9c9");
  svg.append("g").selectAll("circle.d").data(dots).join("circle").attr("class","d").attr("r",.85)
    .attr("cx",function(d){return s.x(d[0]);}).attr("cy",function(d){return s.y(d[1]);}).attr("fill","#6a4fae");
  umapAxes(p,s);
}
featurePanel(panelG,geneHotAce2,geneDotsAce2);
featurePanel(panelH,geneHotDpp4,geneDotsDpp4);
featurePanel(panelI,geneHotTmprss2,geneDotsTmprss2);
miniBar(235.3,770,803.3,6.7);
miniBar(508,768.3,802.3,7);
miniBar(781,765,799,6.7);

label("A",2,16); label("B",268,16); label("C",532,16); label("D",3,302); label("E",308,303); label("F",594,302);
label("G",2,759); label("H",275,759); label("I",545,759);
</script>
</body>
</html>
